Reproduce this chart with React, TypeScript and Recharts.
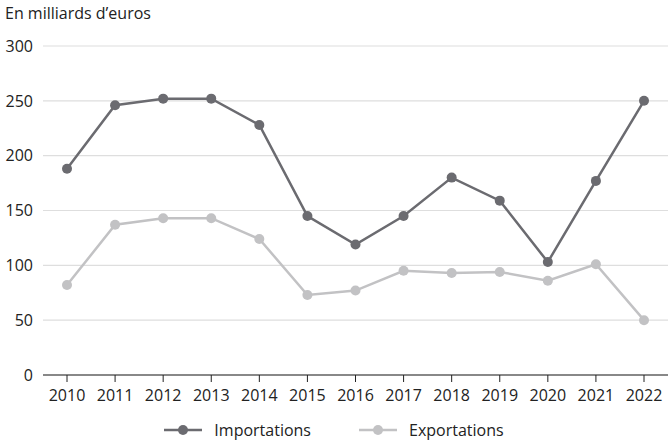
import { LineChart, Line, XAxis, YAxis, CartesianGrid, Legend } from "recharts"

const years = ["2010", "2011", "2012", "2013", "2014", "2015", "2016", "2017", "2018", "2019", "2020", "2021", "2022"]
const importations = [188, 246, 252, 252, 228, 145, 119, 145, 180, 159, 103, 177, 250]
const exportations = [82, 137, 143, 143, 124, 73, 77, 95, 93, 94, 86, 101, 50]
const yTicks = [0, 50, 100, 150, 200, 250, 300]

const IMP = "#6b6b70"
const EXP = "#c2c2c4"
const FONT = "'Open Sans', 'Noto Sans', sans-serif"

const data = years.map((year, i) => ({
  year,
  importations: importations[i],
  exportations: exportations[i],
}))

function LegendContent() {
  const items = [
    { name: "Importations", color: IMP },
    { name: "Exportations", color: EXP },
  ]
  return (
    <div style={{ display: "flex", justifyContent: "center", height: 22, alignItems: "center", fontFamily: FONT, fontSize: 16, color: "#222" }}>
      {items.map((it, i) => (
        <div key={it.name} style={{ display: "flex", alignItems: "center", marginLeft: i === 0 ? 0 : 48 }}>
          <svg width={38} height={12} style={{ marginRight: 12 }}>
            <line x1={0} y1={6} x2={38} y2={6} stroke={it.color} strokeWidth={2.5} />
            <circle cx={19} cy={6} r={5} fill={it.color} />
          </svg>
          <span>{it.name}</span>
        </div>
      ))}
    </div>
  )
}

export default function App() {
  return (
    <div style={{ position: "absolute", left: 0, top: 0, width: 669, height: 441, background: "#fff" }}>
      <div style={{ position: "absolute", left: 5, top: 2, fontFamily: FONT, fontSize: 16, color: "#222" }}>
        En milliards d’euros
      </div>
      <LineChart width={669} height={441} data={data} margin={{ top: 46, right: 1, left: 0, bottom: 0 }}>
        <CartesianGrid vertical={false} stroke="#dedede" strokeWidth={1.2} />
        <XAxis
          dataKey="year"
          padding={{ left: 24, right: 24 }}
          tickLine={{ stroke: "#222" }}
          tickSize={7}
          tickMargin={8}
          axisLine={{ stroke: "#222", strokeWidth: 1.2 }}
          tick={{ fill: "#222", fontSize: 16, fontFamily: FONT }}
          height={44}
          interval={0}
        />
        <YAxis
          domain={[0, 300]}
          ticks={yTicks}
          width={43}
          axisLine={false}
          tickLine={false}
          tickMargin={4}
          tick={{ fill: "#222", fontSize: 16, fontFamily: FONT }}
        />
        <Legend verticalAlign="bottom" content={<LegendContent />} />
        <Line
          dataKey="importations"
          name="Importations"
          stroke={IMP}
          strokeWidth={2.5}
          dot={{ r: 5, fill: IMP, stroke: IMP, strokeWidth: 0 }}
          isAnimationActive={false}
        />
        <Line
          dataKey="exportations"
          name="Exportations"
          stroke={EXP}
          strokeWidth={2.5}
          dot={{ r: 5, fill: EXP, stroke: EXP, strokeWidth: 0 }}
          isAnimationActive={false}
        />
      </LineChart>
    </div>
  )
}
